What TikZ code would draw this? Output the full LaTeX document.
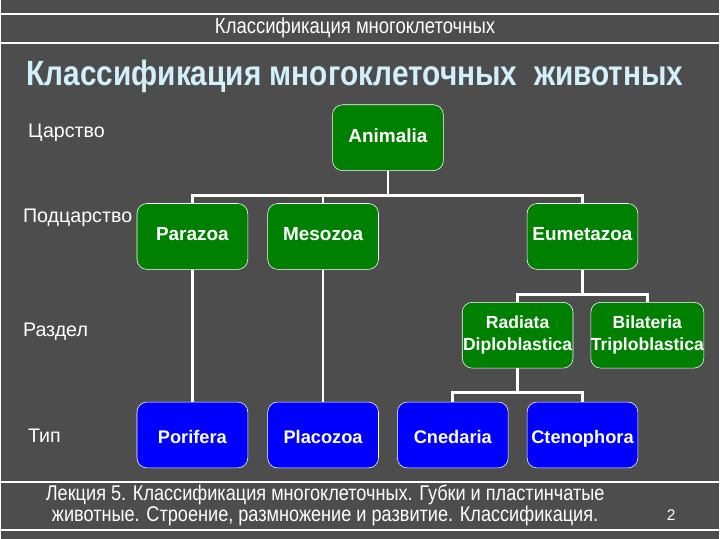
\documentclass[tikz,border=0pt]{standalone}
\usepackage{fontspec}
\setmainfont{Liberation Sans}
\newfontfamily\narrowfont[FakeStretch=0.85]{Liberation Sans}
\usetikzlibrary{positioning}
\definecolor{slidegray}{RGB}{77,77,77}
\definecolor{boxgreen}{RGB}{0,128,0}
\definecolor{boxblue}{RGB}{0,0,255}
\definecolor{titlecyan}{RGB}{210,240,250}
\tikzstyle{taxon}=[draw=white, rounded corners=0.25cm, minimum width=2.775cm, minimum height=1.65cm, inner xsep=0pt, text=white, align=center, font=\bfseries\fontsize{13.5}{15.5}\selectfont]
\tikzstyle{greenbox}=[taxon, fill=boxgreen, text height=1.5ex, text depth=0.3ex]
\tikzstyle{twoline}=[taxon, fill=boxgreen, font=\bfseries\fontsize{12.5}{15.5}\selectfont]
\tikzstyle{bluebox}=[taxon, fill=boxblue, text height=2.2ex, text depth=0ex, font=\bfseries\fontsize{13}{15.5}\selectfont]
\tikzstyle{rankLabel}=[anchor=west, inner sep=0pt, text=white, font=\fontsize{14}{16}\selectfont]
\tikzstyle{branch}=[draw=white, line width=2pt]
\tikzstyle{slideRule}=[draw=white, line width=1.2pt]

\begin{document}
\begin{tikzpicture}[x=0.025cm, y=-0.025cm]
    \fill[slidegray] (0,0) rectangle (720,540);

    % header
    \draw[slideRule] (0,14) -- (720,14);
    \draw[slideRule] (0,43) -- (720,43);
    \node[text=white, font=\narrowfont\fontsize{15.5}{17}\selectfont] (header) at (355,28) {Классификация многоклеточных};
    \node[text=titlecyan, font=\narrowfont\bfseries\fontsize{25}{28}\selectfont] (title) at (355,77) {Классификация многоклеточных\ \ животных};

    % ranks
    \node[rankLabel] (regnum) at (27,133) {Царство};
    \node[rankLabel] (subregnum) at (22,218) {Подцарство};
    \node[rankLabel] (divisio) at (22,332) {Раздел};
    \node[rankLabel] (phylum) at (27,437) {Тип};

    % taxa
    \node[greenbox] (animalia) at (388,138) {Animalia};
    \node[greenbox] (parazoa) at (192,237) {Parazoa};
    \node[greenbox] (mesozoa) at (323,237) {Mesozoa};
    \node[greenbox] (eumetazoa) at (583,237) {Eumetazoa};
    \node[twoline] (radiata) at (518,336) {Radiata\\Diploblastica};
    \node[twoline] (bilateria) at (648,336) {Bilateria\\Triploblastica};
    \node[bluebox] (porifera) at (192,436) {Porifera};
    \node[bluebox] (placozoa) at (323,436) {Placozoa};
    \node[bluebox] (cnedaria) at (453,436) {Cnedaria};
    \node[bluebox] (ctenophora) at (583,436) {Ctenophora};

    % Links
    \draw[branch] (animalia.south) -- ++(0,25) -| (parazoa.north);
    \draw[branch] (animalia.south) -- ++(0,25) -| (mesozoa.north);
    \draw[branch] (animalia.south) -- ++(0,25) -| (eumetazoa.north);
    \draw[branch] (parazoa) -- (porifera);
    \draw[branch] (mesozoa) -- (placozoa);
    \draw[branch] (eumetazoa.south) -- ++(0,25) -| (radiata.north);
    \draw[branch] (eumetazoa.south) -- ++(0,25) -| (bilateria.north);
    \draw[branch] (radiata.south) -- ++(0,24) -| (cnedaria.north);
    \draw[branch] (radiata.south) -- ++(0,24) -| (ctenophora.north);

    % footer
    \draw[slideRule] (0,483) -- (720,483);
    \draw[slideRule] (0,531) -- (720,531);
    \node[text=white, align=center, font=\narrowfont\fontsize{15.2}{15}\selectfont] (lecture) at (325,507) {Лекция 5. Классификация многоклеточных. Губки и пластинчатые\\животные. Строение, размножение и развитие. Классификация.};
    \node[text=white, font=\fontsize{11}{12}\selectfont] (pagenum) at (672,516) {2};
\end{tikzpicture}
\end{document}
